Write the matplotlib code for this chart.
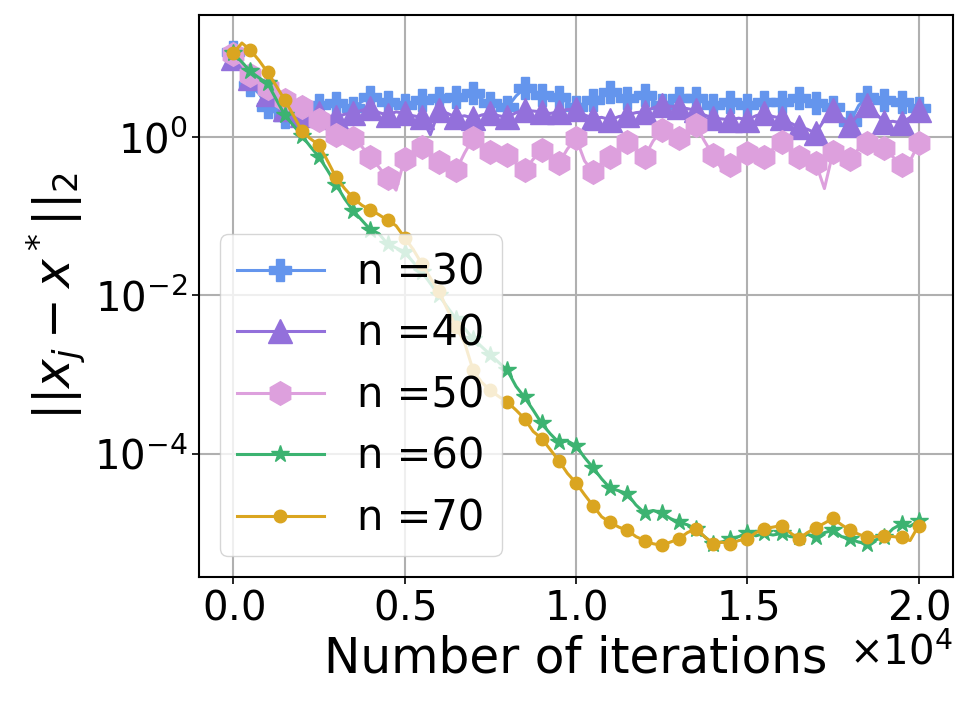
import numpy as np
import matplotlib
matplotlib.use('Agg')
import matplotlib.pyplot as plt

# iterations (every 250), markers drawn every 500
iters = np.arange(0, 20001, 250)

# log10 of ||x_j - x*||_2
log_n30 = [1.08, 0.90, 0.66, 0.55, 0.38, 0.30, 0.25, 0.30, 0.35, 0.40,
           0.41, 0.45, 0.43, 0.40, 0.37, 0.45, 0.51, 0.46, 0.44, 0.40,
           0.41, 0.45, 0.47, 0.46, 0.49, 0.47, 0.51, 0.53, 0.56, 0.48,
           0.43, 0.40, 0.38, 0.52, 0.62, 0.57, 0.53, 0.50, 0.51, 0.44,
           0.38, 0.43, 0.47, 0.52, 0.57, 0.52, 0.49, 0.50, 0.53, 0.46,
           0.41, 0.45, 0.49, 0.47, 0.49, 0.44, 0.41, 0.43, 0.44, 0.42,
           0.41, 0.43, 0.44, 0.45, 0.44, 0.47, 0.49, 0.45, 0.43, 0.40,
           0.38, 0.25, 0.19, 0.40, 0.51, 0.49, 0.47, 0.45, 0.44, 0.42,
           0.37]
log_n40 = [1.00, 0.88, 0.75, 0.62, 0.55, 0.42, 0.35, 0.30, 0.28, 0.31,
           0.30, 0.27, 0.25, 0.29, 0.30, 0.34, 0.37, 0.31, 0.28, 0.32,
           0.30, 0.27, 0.25, 0.03, 0.34, 0.30, 0.25, 0.27, 0.24, 0.28,
           0.30, 0.27, 0.25, 0.31, 0.34, 0.33, 0.32, 0.30, 0.32, 0.35,
           0.35, 0.28, 0.24, 0.25, 0.22, 0.26, 0.28, 0.31, 0.32, 0.37,
           0.41, 0.39, 0.38, 0.36, 0.34, 0.28, 0.24, 0.23, 0.22, 0.24,
           0.22, 0.27, 0.30, 0.26, 0.24, 0.18, 0.13, 0.10, 0.05, 0.22,
           0.34, 0.24, 0.15, 0.30, 0.41, 0.30, 0.19, 0.20, 0.18, 0.25,
           0.34]
log_n50 = [1.05, 0.92, 0.78, 0.70, 0.62, 0.55, 0.47, 0.42, 0.38, 0.30,
           0.22, 0.12, 0.03, 0.00, -0.01, -0.12, -0.25, -0.38, -0.52, -0.67,
           -0.27, -0.18, -0.13, -0.22, -0.32, -0.38, -0.42, -0.20, -0.01, -0.10,
           -0.19, -0.21, -0.23, -0.33, -0.42, -0.28, -0.16, -0.25, -0.33, -0.15,
           -0.01, -0.30, -0.44, -0.33, -0.25, -0.15, -0.06, -0.15, -0.25, -0.05,
           0.09, 0.04, -0.01, 0.07, 0.15, -0.05, -0.23, -0.40, -0.35, -0.28,
           -0.20, -0.22, -0.25, -0.15, -0.06, -0.15, -0.25, -0.30, -0.33, -0.65,
           -0.19, -0.22, -0.27, -0.15, -0.08, -0.11, -0.14, -0.25, -0.35, -0.30,
           -0.08]
log_n60 = [1.06, 0.95, 0.83, 0.75, 0.68, 0.48, 0.28, 0.15, 0.02, -0.12,
           -0.25, -0.42, -0.60, -0.78, -0.93, -1.05, -1.17, -1.22, -1.35, -1.40,
           -1.45, -1.58, -1.70, -1.85, -2.00, -2.15, -2.30, -2.42, -2.55, -2.65,
           -2.75, -2.85, -2.95, -3.15, -3.29, -3.45, -3.62, -3.75, -3.86, -3.84,
           -3.90, -4.05, -4.18, -4.32, -4.44, -4.47, -4.51, -4.65, -4.75, -4.72,
           -4.75, -4.82, -4.87, -4.90, -4.95, -5.05, -5.14, -5.12, -5.08, -5.05,
           -5.00, -5.04, -5.01, -5.03, -5.01, -5.05, -5.06, -5.02, -5.06, -5.00,
           -4.97, -5.05, -5.08, -5.12, -5.14, -5.09, -5.06, -4.95, -4.89, -4.92,
           -4.85]
log_n70 = [1.06, 1.19, 1.10, 0.97, 0.82, 0.65, 0.47, 0.28, 0.08, -0.02,
           -0.10, -0.30, -0.51, -0.65, -0.77, -0.86, -0.92, -0.98, -1.05, -1.12,
           -1.27, -1.42, -1.60, -1.78, -1.95, -2.18, -2.40, -2.60, -2.95, -3.10,
           -3.20, -3.28, -3.35, -3.45, -3.56, -3.72, -3.81, -3.95, -4.09, -4.25,
           -4.37, -4.52, -4.66, -4.80, -4.87, -4.93, -4.97, -5.05, -5.10, -5.14,
           -5.16, -5.12, -5.08, -5.00, -4.95, -5.05, -5.14, -5.12, -5.14, -5.10,
           -5.08, -5.00, -4.95, -4.93, -4.91, -5.00, -5.08, -5.00, -4.94, -4.88,
           -4.82, -4.90, -4.97, -5.02, -5.06, -5.05, -5.04, -5.05, -5.06, -5.10,
           -4.91]

labels = ['n =30', 'n =40', 'n =50', 'n =60', 'n =70']
series = [log_n30, log_n40, log_n50, log_n60, log_n70]
colors = ['cornflowerblue', 'mediumpurple', 'plum', 'mediumseagreen', 'goldenrod']
markers = ['P', '^', 'h', '*', 'o']
msizes = [16, 17, 17, 13, 9]

plt.rcParams['xtick.labelsize'] = 29
plt.rcParams['ytick.labelsize'] = 29

fig = plt.figure(figsize=(9.69, 7.04), dpi=100)
ax = fig.add_axes([0.2054, 0.1804, 0.778, 0.798])

for vals, lab, c, m, ms in zip(series, labels, colors, markers, msizes):
    ax.plot(iters, 10 ** np.array(vals), color=c, marker=m, markersize=ms,
            markevery=2, linewidth=2.2, label=lab)

ax.set_yscale('log')
ax.set_ylim(2.75e-6, 34.8)
ax.set_xlim(-1000, 21000)
ax.set_yticks([1e0, 1e-2, 1e-4])
ax.yaxis.set_minor_locator(matplotlib.ticker.NullLocator())
ax.set_xticks([0, 5000, 10000, 15000, 20000])
ax.ticklabel_format(axis='x', style='sci', scilimits=(0, 0), useMathText=True)

ax.set_xlabel('Number of iterations', fontsize=35)
ax.set_ylabel(r'$||x_j - x^*||_2$', fontsize=35)
ax.grid(True, color='#b0b0b0', linewidth=1.5)
for sp in ax.spines.values():
    sp.set_linewidth(1.5)
ax.tick_params(width=1.2, length=5)

ax.legend(loc='lower left', fontsize=30, handlelength=2.1, labelspacing=0.47)

fig.savefig('out.png', dpi=100)
